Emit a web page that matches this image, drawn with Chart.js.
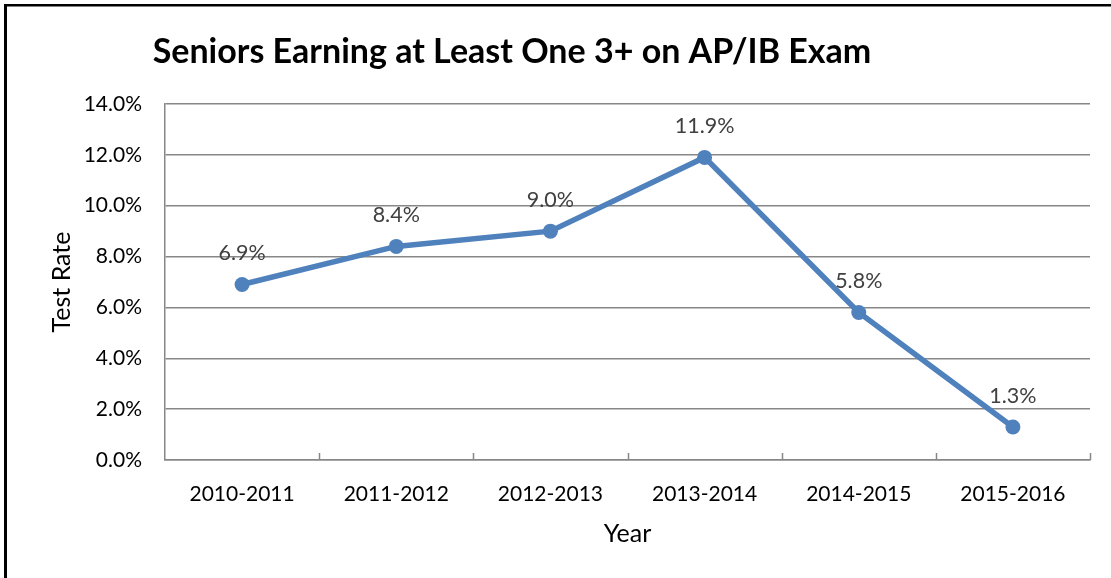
<!DOCTYPE html>
<html>
<head>
<meta charset="utf-8">
<script src="https://cdn.jsdelivr.net/npm/chart.js@4/dist/chart.umd.min.js"></script>
<style>
  html, body { margin: 0; padding: 0; background: #fff; }
  #wrap { width: 1111px; height: 578px; }
</style>
</head>
<body>
<div id="wrap"><canvas id="apChart" width="1111" height="578"></canvas></div>
<script>
// chart data
const years = ['2010-2011', '2011-2012', '2012-2013', '2013-2014', '2014-2015', '2015-2016'];
const testRates = [6.9, 8.4, 9.0, 11.9, 5.8, 1.3];
const chartTitle = 'Seniors Earning at Least One 3+ on AP/IB Exam';

const FONT = 'Lato, "Open Sans", sans-serif';
const BLUE = '#4F81BD';
const GRID = '#878787';

// frame + title drawn on the canvas
const framePlugin = {
  id: 'frame',
  beforeDraw(chart) {
    const ctx = chart.ctx;
    ctx.save();
    ctx.fillStyle = '#fff';
    ctx.fillRect(0, 0, chart.width, chart.height);
    ctx.fillStyle = '#000';
    ctx.fillRect(4, 4, 3, chart.height - 4);
    ctx.fillRect(4, 4, chart.width - 4, 2.5);
    ctx.font = 'bold 34px ' + FONT;
    ctx.textAlign = 'center';
    ctx.textBaseline = 'alphabetic';
    ctx.fillText(chartTitle, 512, 63);
    ctx.restore();
  }
};

// small tick marks pointing up into the plot, between categories
const innerTicks = {
  id: 'innerTicks',
  afterDraw(chart) {
    const x = chart.scales.x;
    const ctx = chart.ctx;
    const half = (x.getPixelForValue(1) - x.getPixelForValue(0)) / 2;
    ctx.save();
    ctx.strokeStyle = GRID;
    ctx.lineWidth = 1.5;
    ctx.beginPath();
    for (let i = 0; i < years.length; i++) {
      const px = Math.round(x.getPixelForValue(i) + half) + 0.5;
      ctx.moveTo(px, x.top);
      ctx.lineTo(px, x.top - 7);
    }
    ctx.stroke();
    ctx.restore();
  }
};

// value labels above each point
const valueLabels = {
  id: 'valueLabels',
  afterDatasetsDraw(chart) {
    const ctx = chart.ctx;
    const meta = chart.getDatasetMeta(0);
    ctx.save();
    ctx.font = '21.5px ' + FONT;
    ctx.fillStyle = '#404040';
    ctx.textAlign = 'center';
    ctx.textBaseline = 'middle';
    meta.data.forEach((pt, i) => {
      ctx.fillText(testRates[i].toFixed(1) + '%', pt.x, pt.y - 31);
    });
    ctx.restore();
  }
};

const ctx = document.getElementById('apChart').getContext('2d');
new Chart(ctx, {
  type: 'line',
  data: {
    labels: years,
    datasets: [{
      label: 'Test Rate',
      data: testRates,
      borderColor: BLUE,
      backgroundColor: BLUE,
      borderWidth: 5.5,
      pointRadius: 7.5,
      pointBorderWidth: 0,
      pointBackgroundColor: BLUE,
      tension: 0,
      fill: false
    }]
  },
  options: {
    responsive: false,
    animation: false,
    layout: { padding: { top: 104, right: 21, left: 40, bottom: 20 } },
    plugins: {
      legend: { display: false },
      title: { display: false },
      tooltip: { enabled: false }
    },
    scales: {
      x: {
        offset: true,
        afterFit: s => { s.height = 578 - 460 - 20; },
        grid: { display: false },
        border: { color: GRID, width: 1.5 },
        ticks: { color: '#000', font: { family: FONT, size: 21 }, padding: 14, maxRotation: 0 },
        title: { display: true, text: 'Year', color: '#000', font: { family: FONT, size: 25 }, padding: { bottom: 9 } }
      },
      y: {
        min: 0,
        max: 14,
        afterFit: s => { s.width = 165 - 40; },
        grid: { color: GRID, lineWidth: 1.5, drawTicks: false },
        border: { color: GRID, width: 1.5 },
        ticks: {
          stepSize: 2,
          color: '#000',
          font: { family: FONT, size: 21 },
          padding: 23,
          callback: v => v.toFixed(1) + '%'
        },
        title: { display: true, text: 'Test Rate', color: '#000', font: { family: FONT, size: 25 }, padding: { top: 7 } }
      }
    }
  },
  plugins: [framePlugin, innerTicks, valueLabels]
});
</script>
</body>
</html>
